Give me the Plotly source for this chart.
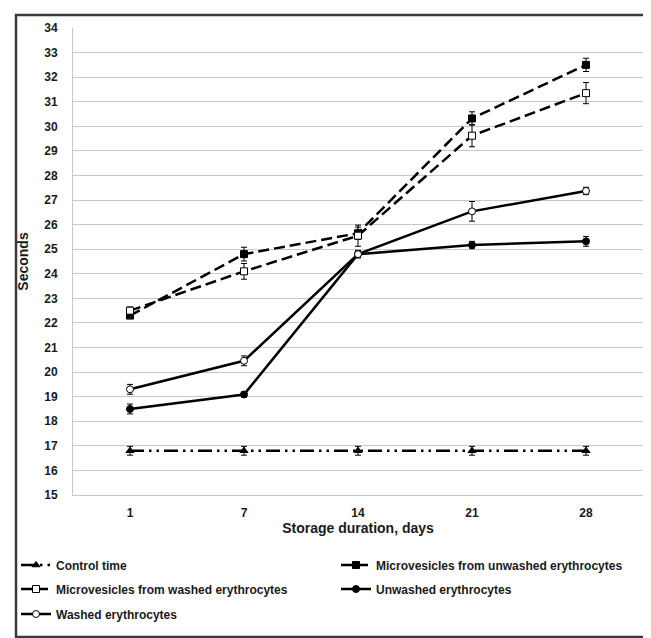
import plotly.graph_objects as go

days = ["1", "7", "14", "21", "28"]

control = [16.8, 16.8, 16.8, 16.8, 16.8]
control_err = [0.18, 0.18, 0.18, 0.18, 0.18]

mv_unwashed = [22.3, 24.8, 25.65, 30.32, 32.5]
mv_unwashed_err = [0.1, 0.28, 0.25, 0.27, 0.27]

mv_washed = [22.5, 24.1, 25.55, 29.62, 31.35]
mv_washed_err = [0.15, 0.32, 0.43, 0.45, 0.43]

unwashed = [18.5, 19.09, 24.8, 25.17, 25.32]
unwashed_err = [0.2, 0.1, 0.15, 0.15, 0.2]

washed = [19.3, 20.46, 24.8, 26.54, 27.37]
washed_err = [0.2, 0.2, 0.15, 0.4, 0.15]

names = [
    "Control time",
    "Microvesicles from unwashed erythrocytes",
    "Microvesicles from washed erythrocytes",
    "Unwashed erythrocytes",
    "Washed erythrocytes",
]

FONT = "Liberation Sans, Arial, sans-serif"
BLACK = "#000000"
TXT = "#1a1a1a"

series = [
    (control, control_err, "triangle-up", BLACK, "14px,5px,2.5px,5px,2.5px,5px", "legend"),
    (mv_unwashed, mv_unwashed_err, "square", BLACK, "11px,5px", "legend2"),
    (mv_washed, mv_washed_err, "square", "white", "11px,5px", "legend3"),
    (unwashed, unwashed_err, "circle", BLACK, "solid", "legend4"),
    (washed, washed_err, "circle", "white", "solid", "legend5"),
]

fig = go.Figure()
for (vals, errs, sym, fill, dash, lg), nm in zip(series, names):
    fig.add_trace(go.Scatter(
        x=days, y=vals, name=nm, mode="lines+markers",
        line=dict(color=BLACK, width=2.5, dash=dash),
        marker=dict(symbol=sym, size=7, color=fill, line=dict(color=BLACK, width=1)),
        error_y=dict(type="data", array=errs, visible=True, color=BLACK, thickness=1, width=3),
        legend=lg,
    ))

W, H = 651, 638
L, R, T, B = 65, 16, 20, 151
pw = W - L - R
ph = H - T - B

def cx(px):
    return (px - L) / pw

def cy(py):
    return (H - B - py) / ph

legend_common = dict(
    orientation="h", xref="container", yref="container",
    xanchor="left", yanchor="middle",
    font=dict(family=FONT, size=12, color=TXT, weight="bold"),
    bgcolor="rgba(0,0,0,0)", itemwidth=30, borderwidth=0,
)

col1, col2 = 8 / W, 328 / W
row1, row2, row3 = 1 - 557 / H, 1 - 581 / H, 1 - 606 / H

fig.update_layout(
    width=W, height=H,
    margin=dict(l=L, r=R, t=T, b=B),
    paper_bgcolor="white", plot_bgcolor="white",
    font=dict(family=FONT, size=12, color=TXT),
    showlegend=True,
    legend=dict(x=col1, y=row1, **legend_common),
    legend2=dict(x=col2, y=row1, **legend_common),
    legend3=dict(x=col1, y=row2, **legend_common),
    legend4=dict(x=col2, y=row2, **legend_common),
    legend5=dict(x=col1, y=row3, **legend_common),
    xaxis=dict(
        type="category", range=[-0.5, 4.5], showgrid=False,
        showline=True, linecolor="#c8c8c8", linewidth=1,
        ticks="outside", ticklen=7, tickcolor="rgba(0,0,0,0)",
        tickfont=dict(family=FONT, size=12, color=TXT, weight="bold"),
        title=dict(text="Storage duration, days", standoff=3,
                   font=dict(family=FONT, size=14, color=TXT, weight="bold")),
    ),
    yaxis=dict(
        range=[15, 34], dtick=1, tick0=15, showgrid=True, gridcolor="#c8c8c8", gridwidth=1,
        showline=True, linecolor="#c8c8c8", linewidth=1, zeroline=False,
        ticks="outside", ticklen=12, tickcolor="rgba(0,0,0,0)",
        tickfont=dict(family=FONT, size=12, color=TXT, weight="bold"),
        title=dict(text="Seconds", standoff=12,
                   font=dict(family=FONT, size=14, color=TXT, weight="bold")),
    ),
    shapes=[dict(
        type="rect", xref="paper", yref="paper",
        x0=cx(8), x1=cx(643), y0=cy(629), y1=cy(7),
        line=dict(color="#3a3a3a", width=2.5), fillcolor="rgba(0,0,0,0)", layer="below",
    )],
)

fig.write_html("out.html")
